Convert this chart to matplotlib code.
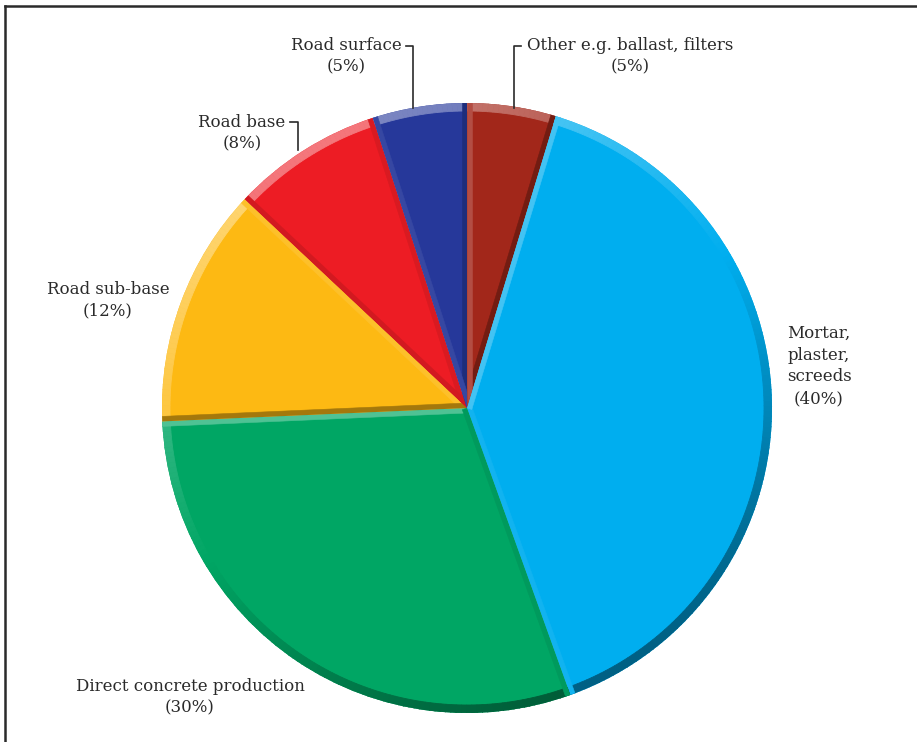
import matplotlib.pyplot as plt
import matplotlib.colors as mcolors
from matplotlib.patches import Polygon
from matplotlib.lines import Line2D
import numpy as np

names = ['Other e.g. ballast, filters', 'Mortar,\nplaster,\nscreeds',
         'Direct concrete production', 'Road sub-base', 'Road base', 'Road surface']
pct_labels = ['5%', '40%', '30%', '12%', '8%', '5%']
values = [4.7, 39.8, 29.8, 12.7, 8.0, 5.0]
colors = ['#A2271A', '#00AEEF', '#00A664', '#FDB913', '#ED1C24', '#26389A']

W, H = 917, 742
fig = plt.figure(figsize=(W / 100, H / 100), dpi=100)
ax = fig.add_axes([0, 0, 1, 1])

cx, cy, R = 467, H - 408, 305
wedges, _ = ax.pie(values, colors=colors, startangle=90, counterclock=False,
                   radius=R, center=(cx, cy), frame=True,
                   wedgeprops=dict(linewidth=0))
ax.set_xlim(0, W)
ax.set_ylim(0, H)
ax.axis('off')

# bevel: light from the upper left
light = np.array([-0.5, 0.85])
light /= np.linalg.norm(light)


def shade(c, s, k_light=0.4, k_dark=0.45):
    rgb = np.array(mcolors.to_rgb(c))
    if s >= 0:
        return rgb + (1 - rgb) * k_light * s
    return rgb * (1 - k_dark * (-s))


rim = 8
edge = 5
center = np.array([cx, cy])
for w, c in zip(wedges, colors):
    t1, t2 = w.theta1, w.theta2
    angs = np.linspace(t1, t2, int(abs(t2 - t1)) + 2)
    for a0, a1 in zip(angs[:-1], angs[1:]):
        am = np.radians((a0 + a1) / 2)
        s = np.cos(am) * light[0] + np.sin(am) * light[1]
        seg = np.radians(np.linspace(a0, a1, 4))
        outer = [center + (R + 1) * np.array([np.cos(t), np.sin(t)]) for t in seg]
        inner = [center + (R - rim) * np.array([np.cos(t), np.sin(t)]) for t in seg[::-1]]
        fc = shade(c, s)
        p = Polygon(outer + inner, closed=True, fc=fc, ec=fc, lw=0.6)
        p.set_clip_path(w)
        ax.add_patch(p)
    for th, sign in ((t1, -1), (t2, 1)):
        n = np.array([np.cos(np.radians(th + sign * 90)), np.sin(np.radians(th + sign * 90))])
        d = np.array([np.cos(np.radians(th)), np.sin(np.radians(th))])
        s = n @ light
        fc = shade(c, s, 0.35, 0.4)
        pts = [center, center + d * (R + 2), center + d * (R + 2) - n * edge, center - n * edge]
        p = Polygon(pts, closed=True, fc=fc, ec=fc, lw=0.4)
        p.set_clip_path(w)
        ax.add_patch(p)

# labels
label_pos = [(630, 56), (819, 366), (190, 697), (108, 300), (242, 133), (346, 56)]
tc = '#2a2a2a'
for name, pc, (px, py) in zip(names, pct_labels, label_pos):
    ax.text(px, H - py, f'{name}\n({pc})', ha='center', va='center',
            family='DejaVu Serif', fontsize=12, color=tc, linespacing=1.36)

# leader brackets
leaders = [[(406, 46), (413, 46), (413, 108)],
           [(521, 46), (514, 46), (514, 108)],
           [(290, 122), (298, 122), (298, 150)]]
for pts in leaders:
    xs, ys = zip(*pts)
    ax.plot(xs, [H - y for y in ys], color=tc, lw=1.2)

# frame around the figure
fig.add_artist(Line2D([5 / W, 5 / W], [0, 1 - 6 / H], transform=fig.transFigure,
                      color='#2a2a2a', lw=1.8))
fig.add_artist(Line2D([5 / W, 1], [1 - 6 / H, 1 - 6 / H], transform=fig.transFigure,
                      color='#2a2a2a', lw=1.8))

fig.savefig('out.png', dpi=100)
